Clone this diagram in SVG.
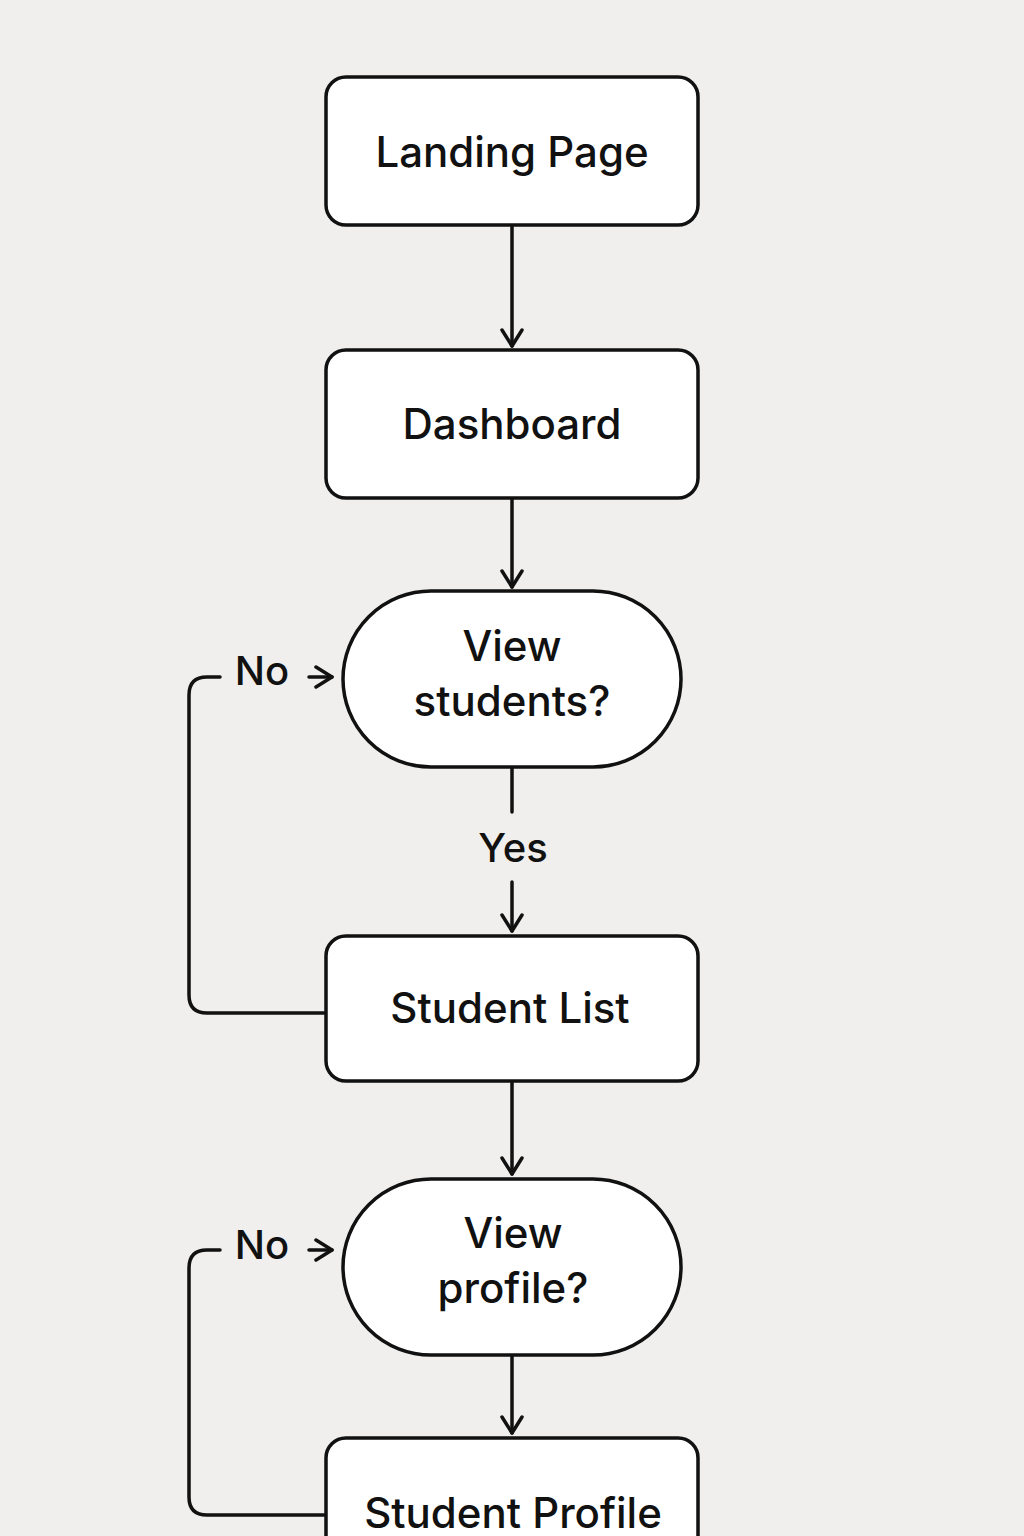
<svg xmlns="http://www.w3.org/2000/svg" width="1024" height="1536" viewBox="0 0 1024 1536">
<style>
.box{fill:#ffffff;stroke:#111;stroke-width:3.5}
.t{font-family:Inter,"Liberation Sans",sans-serif;font-size:42px;font-weight:500;fill:#111;text-anchor:middle}
.l{font-family:Inter,"Liberation Sans",sans-serif;font-size:40px;font-weight:500;fill:#111;text-anchor:middle}
.c{fill:none;stroke:#111;stroke-width:3.5;stroke-linecap:round;stroke-linejoin:round}
</style>
<defs>
<marker id="ah" viewBox="0 0 24 24" refX="21" refY="12" markerWidth="24" markerHeight="24" markerUnits="userSpaceOnUse" orient="auto">
<path d="M5,2 L21,12 L5,22" fill="none" stroke="#111" stroke-width="3.5" stroke-linecap="round" stroke-linejoin="round"/>
</marker>
</defs>
<rect width="1024" height="1536" fill="#f0efee"/>
<g id="connectors">
<line class="c" x1="512" y1="226" x2="512" y2="346" marker-end="url(#ah)"/>
<line class="c" x1="512" y1="499" x2="512" y2="587" marker-end="url(#ah)"/>
<line class="c" x1="512" y1="768" x2="512" y2="812"/>
<line class="c" x1="512" y1="882" x2="512" y2="931" marker-end="url(#ah)"/>
<line class="c" x1="512" y1="1082" x2="512" y2="1174" marker-end="url(#ah)"/>
<line class="c" x1="512" y1="1356" x2="512" y2="1433" marker-end="url(#ah)"/>
<path class="c" d="M326,1013 H207 Q189,1013 189,995 V695 Q189,677 207,677 H220"/>
<line class="c" x1="309" y1="677" x2="332" y2="677" marker-end="url(#ah)"/>
<text class="l" x="262" y="685">No</text>
<text class="l" x="513" y="862">Yes</text>
<path class="c" d="M326,1515 H207 Q189,1515 189,1497 V1268 Q189,1250 207,1250 H220"/>
<line class="c" x1="309" y1="1250" x2="332" y2="1250" marker-end="url(#ah)"/>
<text class="l" x="262" y="1259">No</text>
</g>
<g id="landing"><rect class="box" x="326" y="77" width="372" height="148" rx="20"/><text class="t" x="512" y="167">Landing Page</text></g>
<g id="dashboard"><rect class="box" x="326" y="350" width="372" height="148" rx="20"/><text class="t" x="512" y="439">Dashboard</text></g>
<g id="view-students"><rect class="box" x="343" y="591" width="338" height="176" rx="88"/><text class="t" x="512" y="661">View</text><text class="t" x="512" y="716">students?</text></g>
<g id="student-list"><rect class="box" x="326" y="936" width="372" height="145" rx="20"/><text class="t" x="510" y="1023">Student List</text></g>
<g id="view-profile"><rect class="box" x="343" y="1179" width="338" height="176" rx="88"/><text class="t" x="513" y="1248">View</text><text class="t" x="513" y="1303">profile?</text></g>
<g id="student-profile"><rect class="box" x="326" y="1438" width="372" height="148" rx="20"/><text class="t" x="513" y="1528">Student Profile</text></g>
</svg>
